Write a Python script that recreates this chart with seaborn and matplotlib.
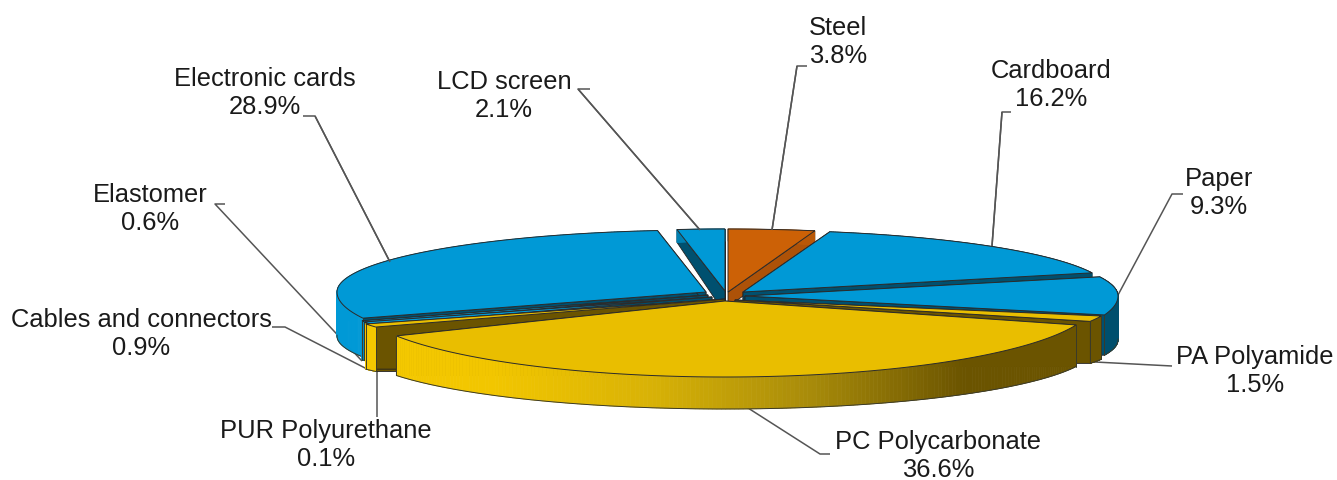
import numpy as np
import matplotlib
matplotlib.use("Agg")
import matplotlib.pyplot as plt
from matplotlib.collections import PolyCollection
from matplotlib.patches import Polygon
import seaborn as sns

# ---- data (clockwise from 12 o'clock) ----
materials = ["Steel", "Cardboard", "Paper", "PA Polyamide", "PC Polycarbonate",
             "PUR Polyurethane", "Cables and connectors", "Elastomer",
             "Electronic cards", "LCD screen"]
shares = [3.8, 16.2, 9.3, 1.5, 36.6, 0.1, 0.9, 0.6, 28.9, 2.1]

# ---- styling / layout of the exploded pseudo-3D pie ----
apex_x = [728, 743, 745, 735, 725, 725, 712, 708, 706, 725]
apex_y = [293, 293, 297, 301, 302, 300, 298, 296, 293, 292]
rad_x = [367, 367, 373, 380, 370, 395, 380, 372, 369, 365]
ry_back = [63, 62, 62, 62, 62, 62, 62, 62, 62, 62]
ry_front = [62, 62, 71, 60, 76, 60, 62, 70, 71, 62]
pad_start = [0, 0, 0, 0, 2.5, 0.5, 0, 0, 0, 0]
pad_end = [0, 0, 0, 0, 0, 2.4, 0, 0, 0, 0]
extra_depth = [0, 0, 0, 3, 2, 7, 0, 0, 0, 0]
apex_extra = [0, 0, 0, 0, 0, 0, 0, 0, 0, 10]
families = ["orange", "blue", "blue", "yellow", "yellow", "yellow", "blue", "blue", "blue", "blue"]
paint_order = [9, 0, 8, 1, 7, 6, 2, 5, 3, 4]

top_col = {"blue": "#0099D6", "yellow": "#E9BE00", "orange": "#CC6106"}
wall_col = {"blue": "#00506F", "yellow": "#6B5400", "orange": "#AD5208"}
rim_pal = {
    "blue": sns.blend_palette(["#0099D6", "#0096D2", "#0079A8", "#00506F", "#004F6D"], 256),
    "yellow": sns.blend_palette(["#F5C900", "#F2C600", "#D8B206", "#A98C0A", "#6B5400", "#6B5400"], 256),
    "orange": sns.blend_palette(["#CC6106", "#AD5208"], 256),
}
# label text centres and leader polylines (figure pixels)
label_xy = [(838, 42), (1051, 85), (1219, 193), (1255, 371), (938, 456),
            (326, 445), (141, 334), (150, 209), (265, 93), (504, 96)]
leaders = [
    [(807, 67), (797, 67), (772, 231)],
    [(1011, 113), (1002, 113), (992, 247)],
    [(1183, 195), (1172, 195), (1118, 296)],
    [(1172, 367), (1095, 363)],
    [(830, 455), (820, 455), (748, 409)],
    [(377, 418), (377, 372)],
    [(272, 328), (285, 328), (367, 370)],
    [(225, 205), (215, 205), (362, 362)],
    [(303, 117), (315, 117), (390, 263)],
    [(590, 90), (578, 90), (700, 231)],
]

sns.set_theme(style="white")
plt.rcParams["font.family"] = ["Liberation Sans", "DejaVu Sans"]

fig = plt.figure(figsize=(13.37, 4.81), dpi=100)
ax = fig.add_axes([0, 0, 1, 1])
ax.set_xlim(0, 1337)
ax.set_ylim(481, 0)
ax.axis("off")

edges = np.concatenate([[0], np.cumsum(shares)]) / sum(shares) * 360.0


def depth(theta, i):
    c = np.cos(theta)
    return 44 - 32 * np.clip(c, 0, 1) ** 3 - 14 * np.clip(-c, 0, 1) + extra_depth[i]


def rim_xy(i, theta):
    c = np.cos(theta)
    ry = np.where(c > 0, ry_back[i], ry_front[i])
    return apex_x[i] + rad_x[i] * np.sin(theta), apex_y[i] - ry * c


# leaders sit behind the pie where they reach its rim
for path in leaders:
    xs, ys = zip(*path)
    ax.plot(xs, ys, color="#555555", lw=1.1, zorder=1, solid_capstyle="butt")

z = 2
for i in paint_order:
    fam = families[i]
    th = np.radians(np.linspace(edges[i] - pad_start[i], edges[i + 1] + pad_end[i], 200))
    x, y = rim_xy(i, th)
    d = depth(th, i)

    # radial walls: the front ones run level along the base, the back ones follow the tilt
    for k in (0, -1):
        if np.cos(th[k]) < 0:
            base_y = y[k] + d[k]
        else:
            base_y = apex_y[i] + d[k] + apex_extra[i]
        wall = [(apex_x[i], apex_y[i]), (x[k], y[k]), (x[k], y[k] + d[k]), (apex_x[i], base_y)]
        ax.add_patch(Polygon(wall, closed=True, fc=wall_col[fam], ec="#222222", lw=0.6, zorder=z))
    z += 1

    # outer rim with left-to-right shading
    quads, cols = [], []
    pal = rim_pal[fam]
    for j in range(len(th) - 1):
        quads.append([(x[j], y[j]), (x[j + 1], y[j + 1]),
                      (x[j + 1], y[j + 1] + d[j + 1]), (x[j], y[j] + d[j])])
        t = np.clip((0.5 * (x[j] + x[j + 1]) - 337) / (1118 - 337), 0, 1)
        cols.append(pal[int(t * 255)])
    ax.add_collection(PolyCollection(quads, facecolors=cols, edgecolors=cols, linewidths=0.5, zorder=z))
    z += 1
    front = np.cos(th) <= 0.02
    ax.plot(x[front], (y + d)[front], color="#3a3a2a", lw=0.7, zorder=z)
    for k in (0, -1):
        if np.cos(th[k]) <= 0.02:
            ax.plot([x[k], x[k]], [y[k], y[k] + d[k]], color="#3a3a2a", lw=0.7, zorder=z)
    z += 1

    # top face
    poly = np.vstack([[apex_x[i], apex_y[i]], np.column_stack([x, y])])
    ax.add_patch(Polygon(poly, closed=True, fc=top_col[fam], ec="#2b2b2b", lw=0.7, zorder=z))
    z += 1

# the leader ends that land on a top face stay visible above it
for path in (leaders[0], leaders[1], leaders[8], leaders[9]):
    xs, ys = zip(*path[-2:])
    ax.plot(xs, ys, color="#555555", lw=1.1, zorder=z, solid_capstyle="butt")

for name, val, (tx, ty) in zip(materials, shares, label_xy):
    ax.text(tx, ty, f"{name}\n{val:.1f}%", ha="center", va="center", fontsize=18.4,
            color="#1a1a1a", linespacing=1.25, zorder=z + 1)

fig.savefig("out.png", dpi=100, facecolor="white")
